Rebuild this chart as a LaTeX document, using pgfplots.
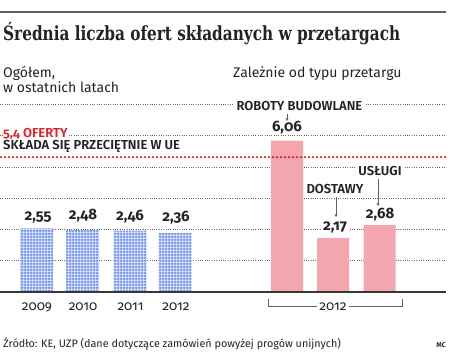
\documentclass[border=0pt]{standalone}
\usepackage{fontspec}
\setmainfont{Fira Sans}[Numbers=OldStyle]
\newfontfamily\sbfont{Fira Sans SemiBold}[Numbers=OldStyle]
\newfontfamily\titlefont{DejaVu Serif}
\usepackage{graphicx}
\usepackage{pgfplots}
\pgfplotsset{compat=1.18}
\usetikzlibrary{patterns,arrows.meta}
\definecolor{pinkbar}{RGB}{243,166,174}
\definecolor{bluefill}{RGB}{218,227,252}
\definecolor{blueline}{RGB}{110,140,236}
\definecolor{redline}{RGB}{228,30,38}
\definecolor{txt}{RGB}{35,35,35}
\definecolor{gridc}{RGB}{105,105,105}
\definecolor{basec}{RGB}{55,55,55}
\definecolor{rulec}{RGB}{95,95,95}
\pgfdeclarepatternformonly{bluegrid}{\pgfpointorigin}{\pgfqpoint{3pt}{3pt}}{\pgfqpoint{3pt}{3pt}}{%
  \pgfsetlinewidth{1.2pt}%
  \pgfpathmoveto{\pgfqpoint{0pt}{1.5pt}}\pgfpathlineto{\pgfqpoint{3pt}{1.5pt}}%
  \pgfpathmoveto{\pgfqpoint{1.5pt}{0pt}}\pgfpathlineto{\pgfqpoint{1.5pt}{3pt}}%
  \pgfusepath{stroke}}
\begin{document}
\begin{tikzpicture}[x=1pt,y=1pt]
\useasboundingbox (0,0) rectangle (458,360);
% top rule
\draw[line width=1.5pt, rulec] (0,348) -- (446,348);
% title
\node[anchor=base west, inner sep=0, text=txt] at (3,319.8) {\resizebox{397pt}{\height}{\titlefont\bfseries\fontsize{19.5}{22}\selectfont Średnia liczba ofert składanych w przetargach}};
% subtitles
\node[anchor=base west, inner sep=0, text=txt, font=\fontsize{14}{16}\selectfont] at (3,282.5) {Ogółem,};
\node[anchor=base west, inner sep=0, text=txt, font=\fontsize{14}{16}\selectfont] at (3,267.5) {w ostatnich latach};
\node[anchor=base west, inner sep=0, text=txt, font=\fontsize{14}{16}\selectfont] at (233,282.5) {Zależnie od typu przetargu};
% bracket
\draw[rulec, line width=1pt] (268,61) -- (268,54) -- (402,54) -- (402,61);
\begin{axis}[
  at={(0pt,68pt)}, anchor=south west,
  width=446pt, height=250pt, scale only axis,
  xmin=0, xmax=446, ymin=0, ymax=10,
  clip=false,
  axis line style={draw=none},
  major tick length=0pt,
  ytick=\empty,
  xtick={37,83,130.5,176,333},
  xticklabels={2009,2010,2011,2012,2012},
  xticklabel style={anchor=base, yshift=-18pt, font=\fontsize{13.5}{15}\selectfont, text=txt, fill=white, inner xsep=2.5pt, inner ysep=1pt},
]
% dotted gridlines
\pgfplotsinvokeforeach{1.25,2.5,3.75,5,6.25,7.5}{
  \addplot[gridc, line width=1pt, dash pattern=on 1pt off 1.3pt] coordinates {(0,#1) (446,#1)};
}
\addplot[ybar, bar width=33pt, bar shift=0pt, fill=bluefill, draw=none,
  postaction={pattern=bluegrid, pattern color=blueline}]
  coordinates {(36.5,2.55) (82.5,2.48) (130,2.46) (175,2.36)};
\addplot[ybar, bar width=32pt, bar shift=0pt, fill=pinkbar, draw=none]
  coordinates {(287,6.06) (333,2.17) (379.5,2.68)};
\addplot[redline, line width=2.5pt, dash pattern=on 0pt off 4pt, line cap=round]
  coordinates {(1,5.4) (446,5.4)};
\addplot[basec, line width=2pt] coordinates {(0,0) (446,0)};
\end{axis}
% value labels
\tikzset{vlab/.style={anchor=base, inner xsep=1.5pt, inner ysep=1pt, fill=white, text=txt, font=\fontsize{15}{17}\selectfont\bfseries}}
\node[vlab] at (38,139.5) {2,55};
\node[vlab] at (83,141) {2,48};
\node[vlab] at (130,140) {2,46};
\node[vlab] at (176,138.5) {2,36};
\node[vlab] at (287,228.5) {6,06};
\node[vlab] at (335,130) {2,17};
\node[vlab] at (380,142) {2,68};
% category labels
\tikzset{clab/.style={anchor=base, inner xsep=3pt, inner ysep=1pt, fill=white, text=txt, font=\sbfont\fontsize{13}{15}\selectfont}}
\node[clab] at (299.5,250) {ROBOTY BUDOWLANE};
\node[clab] at (335,167) {DOSTAWY};
\node[clab] at (380,185) {USŁUGI};
\node[anchor=base west, inner xsep=0pt, inner ysep=1pt, fill=white, text=redline, font=\sbfont\fontsize{13}{15}\selectfont] at (3,223) {5,4 OFERTY\hspace{3pt}};
\node[anchor=base west, inner sep=0pt, text=txt, font=\sbfont\fontsize{13}{15}\selectfont] at (3,210.5) {SKŁADA SIĘ PRZECIĘTNIE W UE};
% leaders
\tikzset{lead/.style={rulec, line width=0.8pt, -{Stealth[length=3pt,width=3pt]}}}
\draw[lead] (287,246) -- (287,239);
\draw[lead] (336,163) -- (336,143);
\draw[lead] (378,181) -- (378,154);
% source
\node[anchor=base west, inner sep=0, text=txt, font=\fontsize{10.8}{13}\selectfont] at (3,13) {Źródło: KE, UZP (dane dotyczące zamówień powyżej progów unijnych)};
\node[anchor=base east, inner sep=0, text=txt, font=\sbfont\fontsize{7}{8}\selectfont] at (446,13) {MC};
\end{tikzpicture}
\end{document}
